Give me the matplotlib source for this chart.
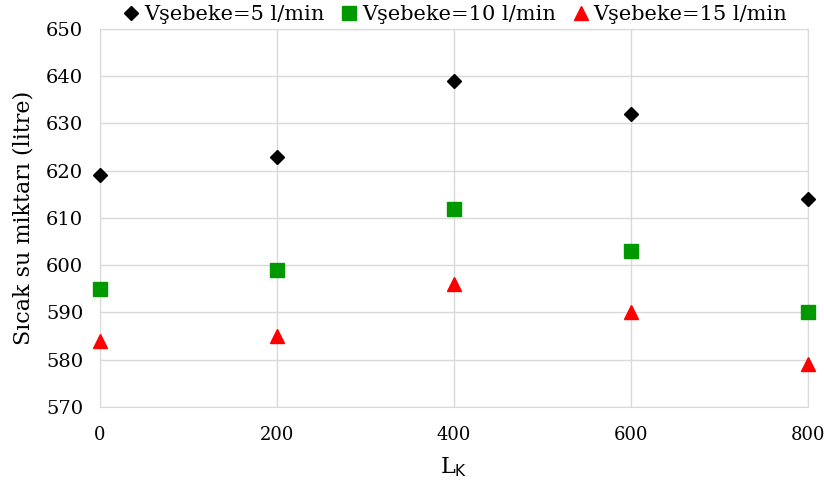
import matplotlib
matplotlib.use("Agg")
import matplotlib.pyplot as plt

# 데이터
lk = [0, 200, 400, 600, 800]
v5 = [619, 623, 639, 632, 614]
v10 = [595, 599, 612, 603, 590]
v15 = [584, 585, 596, 590, 579]
labels = ["Vşebeke=5 l/min", "Vşebeke=10 l/min", "Vşebeke=15 l/min"]

plt.rcParams['font.family'] = ['DejaVu Serif']

fig = plt.figure(figsize=(8.24, 4.92), dpi=100)
ax = fig.add_axes([100/824, 1 - 407/492, 708/824, 378/492])

ax.plot(lk, v5, 'D', color='black', ms=7.5, label=labels[0], clip_on=False, zorder=3)
ax.plot(lk, v10, 's', color='#009a00', ms=9.5, label=labels[1], clip_on=False, zorder=3)
ax.plot(lk, v15, '^', color='#ff0000', ms=10, label=labels[2], clip_on=False, zorder=3)

ax.set_xlim(0, 800)
ax.set_ylim(570, 650)
ax.set_xticks(lk)
ax.set_yticks(range(570, 651, 10))
ax.grid(True, color='#d9d9d9', lw=1)
ax.set_axisbelow(True)
for s in ax.spines.values():
    s.set_color('#d9d9d9')
ax.tick_params(length=0, labelsize=14, colors='black')
ax.tick_params(axis='x', pad=14, labelsize=13)
ax.tick_params(axis='y', pad=12)

ax.set_xlabel("L$_\\mathrm{K}$", fontsize=16, labelpad=8)
ax.set_ylabel("Sıcak su miktarı (litre)", fontsize=16, labelpad=8)

ax.legend(loc='lower center', bbox_to_anchor=(0.5, 0.985), ncol=3, frameon=False,
          fontsize=15, handletextpad=0.1, columnspacing=0.7, borderpad=0,
          handlelength=1.0)

fig.savefig("out.png", dpi=100)
